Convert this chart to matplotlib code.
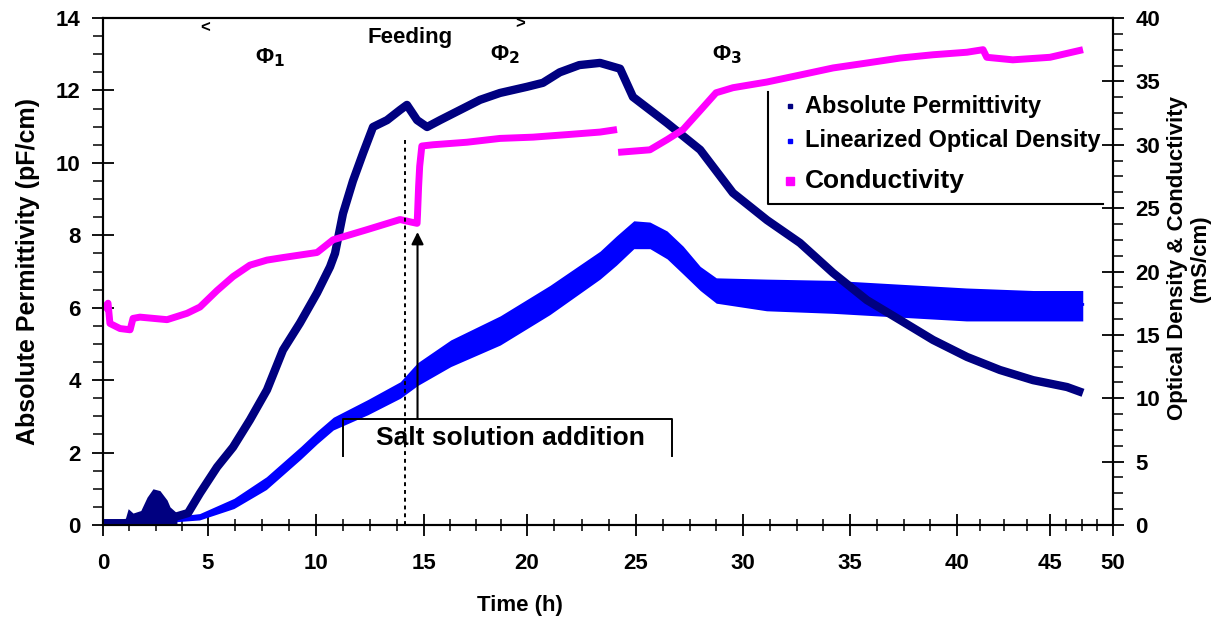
import numpy as np
import matplotlib
matplotlib.use("Agg")
import matplotlib.pyplot as plt
from matplotlib.lines import Line2D
from matplotlib.ticker import MultipleLocator, FixedLocator

plt.rcParams["font.family"] = ["Liberation Sans", "DejaVu Sans"]
plt.rcParams["font.weight"] = "bold"

# ---------------- data ----------------
x_ticks = [0, 5, 10, 15, 20, 25, 30, 35, 40, 45, 50]
left_ticks = [0, 2, 4, 6, 8, 10, 12, 14]
right_ticks = [0, 5, 10, 15, 20, 25, 30, 35, 40]

# Absolute permittivity (pF/cm), left axis
perm_time = [0, 1.0, 2.0, 3.0, 4.05, 4.62, 5.42, 6.16, 6.94, 7.73, 8.47, 9.26,
             10.05, 10.65, 10.88, 11.25, 11.71, 12.18, 12.64, 13.29, 13.89,
             14.21, 14.68, 15.15, 15.78, 16.75, 17.72, 18.69, 20.0, 20.73,
             21.5, 22.4, 23.35, 24.27, 24.86, 26.45, 28.0, 29.53, 31.12,
             32.66, 34.21, 35.79, 37.34, 38.88, 40.54, 42.31, 44.09, 46.35, 47.62]
perm_value = [0.05, 0.05, 0.1, 0.15, 0.33, 0.88, 1.6, 2.15, 2.9, 3.73, 4.83, 5.58,
              6.41, 7.13, 7.5, 8.6, 9.5, 10.27, 10.99, 11.18, 11.46,
              11.6, 11.18, 10.99, 11.18, 11.46, 11.74, 11.93, 12.1, 12.21,
              12.5, 12.7, 12.76, 12.6, 11.82, 11.1, 10.36, 9.17, 8.42,
              7.79, 6.96, 6.21, 5.66, 5.11, 4.64, 4.28, 4.0, 3.81, 3.65]
# early noisy blob of the permittivity signal
perm_blob_time = [1.0, 1.2, 1.43, 1.8, 2.1, 2.38, 2.71, 3.05, 3.19, 3.52]
perm_blob_top = [0.05, 0.45, 0.33, 0.4, 0.77, 1.0, 0.95, 0.69, 0.5, 0.33]

# Linearized optical density, right axis (band of points)
od_time = [0, 3.0, 4.6, 6.2, 7.7, 9.3, 10.05, 10.8, 12.4, 13.9, 14.7, 16.3,
           18.7, 21.05, 23.35, 24.1, 24.9, 25.65, 26.45, 27.2, 28.0, 28.75,
           31.1, 34.2, 37.3, 40.5, 44.1, 47.6]
od_center = [0.1, 0.4, 0.6, 1.7, 3.3, 5.7, 6.9, 8.0, 9.3, 10.65, 12.0, 13.6,
             15.4, 17.75, 20.5, 21.7, 23.2, 23.0, 22.25, 21.1, 19.6, 18.8,
             18.2, 18.1, 17.8, 17.5, 17.4, 17.4]
od_upper = [0.3, 0.6, 0.9, 2.1, 3.8, 6.2, 7.4, 8.5, 9.9, 11.3, 12.8, 14.6,
            16.5, 18.9, 21.6, 22.8, 24.0, 23.9, 23.2, 22.0, 20.4, 19.5,
            19.4, 19.3, 19.0, 18.7, 18.5, 18.5]
od_lower = [0.0, 0.2, 0.4, 1.3, 2.8, 5.2, 6.4, 7.5, 8.7, 10.0, 11.0, 12.5,
            14.2, 16.6, 19.4, 20.5, 21.8, 21.8, 21.0, 19.8, 18.5, 17.5,
            16.9, 16.7, 16.4, 16.1, 16.1, 16.1]

# Conductivity (mS/cm), right axis; NaN marks the break at t = 24 h
nan = float("nan")
cond_time = [0, 0.24, 0.33, 0.81, 1.29, 1.43, 1.76, 3.05, 4.0, 4.62, 5.42, 6.16,
             6.94, 7.73, 8.47, 9.26, 10.05, 10.79, 12.36, 13.89, 14.4, 14.68,
             14.7, 14.75, 14.8, 14.9, 15.44, 17.09, 18.69, 20.28, 21.84, 23.35,
             24.13, nan, 24.18, 25.65, 26.45, 27.2, 28.0, 28.74, 29.53, 31.12,
             32.66, 34.21, 35.79, 37.34, 38.88, 40.54, 41.4, 41.6, 43.0, 45.0, 47.62]
cond_value = [17.0, 17.5, 15.9, 15.5, 15.4, 16.3, 16.4, 16.2, 16.7, 17.2, 18.5, 19.6,
              20.5, 20.9, 21.1, 21.3, 21.5, 22.5, 23.3, 24.1, 23.9, 23.8,
              24.5, 26.7, 28.3, 29.9, 30.0, 30.2, 30.5, 30.6, 30.8, 31.0,
              31.2, nan, 29.4, 29.6, 30.4, 31.2, 32.7, 34.1, 34.5, 34.95,
              35.5, 36.06, 36.45, 36.84, 37.1, 37.3, 37.5, 36.9, 36.7, 36.9, 37.5]

# ---------------- layout / styles ----------------
W, H = 1215, 632
AX_L, AX_R, AX_T, AX_B = 103, 1113, 18, 525
# The reference's time axis is unevenly spaced (compressed beyond 40 h);
# pixel spacing of its tick labels, used as a piecewise-linear scale.
X_TICK_PX = [103, 208, 316, 424, 527, 636, 743, 850, 957, 1050, 1113]

NAVY = "#000080"
BLUE = "#0000FF"
MAGENTA = "#FF00FF"


def _piecewise(src, dst):
    src = np.asarray(src, float)
    dst = np.asarray(dst, float)
    s0 = (dst[1] - dst[0]) / (src[1] - src[0])
    s1 = (dst[-1] - dst[-2]) / (src[-1] - src[-2])

    def f(v):
        v = np.asarray(v, float)
        out = np.interp(v, src, dst)
        out = np.where(v < src[0], dst[0] + (v - src[0]) * s0, out)
        out = np.where(v > src[-1], dst[-1] + (v - src[-1]) * s1, out)
        return out
    return f


fig = plt.figure(figsize=(W / 100, H / 100), dpi=100)
ax = fig.add_axes([AX_L / W, (H - AX_B) / H, (AX_R - AX_L) / W, (AX_B - AX_T) / H])
ax.set_xscale("function", functions=(_piecewise(x_ticks, X_TICK_PX),
                                     _piecewise(X_TICK_PX, x_ticks)))
ax.set_xlim(0, 50)
ax.set_ylim(0, 14)
ax2 = ax.twinx()
ax2.set_ylim(0, 40)

# optical density band (right axis scale), drawn first
ax.fill_between(od_time, od_lower, od_upper, color=BLUE, lw=0,
                transform=ax2.transData, zorder=2)
ax.plot(od_time, od_center, color=BLUE, lw=2, transform=ax2.transData, zorder=2)

# permittivity (left axis)
ax.fill_between(perm_blob_time, 0, perm_blob_top, color=NAVY, lw=0, zorder=3)
ax.plot(perm_time, perm_value, color=NAVY, lw=6, zorder=3,
        solid_capstyle="butt")

# conductivity (right axis scale)
ax.plot(cond_time, cond_value, color=MAGENTA, lw=5, zorder=4,
        transform=ax2.transData, solid_capstyle="butt")

# ---------------- ticks & spines ----------------
for a in (ax, ax2):
    for s in a.spines.values():
        s.set_linewidth(1.5)
ax.xaxis.set_major_locator(FixedLocator(x_ticks))
ax.xaxis.set_minor_locator(MultipleLocator(1.25))
ax.set_xticklabels([str(v) for v in x_ticks])
ax.yaxis.set_major_locator(FixedLocator(left_ticks))
ax.yaxis.set_minor_locator(MultipleLocator(0.5))
ax2.yaxis.set_major_locator(FixedLocator(right_ticks))
ax2.yaxis.set_minor_locator(MultipleLocator(1.25))

ax.tick_params(axis="x", which="major", direction="inout", length=16, width=1.3,
               labelsize=16, pad=12)
ax.tick_params(axis="x", which="minor", direction="inout", length=9, width=1.1)
ax.tick_params(axis="y", which="major", direction="inout", length=16, width=1.3,
               labelsize=16, pad=8)
ax.tick_params(axis="y", which="minor", direction="out", length=7, width=1.1)
ax2.tick_params(axis="y", which="major", direction="inout", length=16, width=1.3,
                labelsize=16, pad=8)
ax2.tick_params(axis="y", which="minor", direction="out", length=7, width=1.1)

ax.set_xlabel("Time (h)", fontsize=16, fontweight="bold")
ax.xaxis.set_label_coords(0.413, -0.158)
ax.xaxis.label.set_va("center")
ax.set_ylabel("Absolute Permittivity (pF/cm)", fontsize=18, fontweight="bold")
ax.yaxis.set_label_coords(-0.074, 0.5)
ax.yaxis.label.set_va("center")
ax2.set_ylabel("Optical Density & Conductivity\n(mS/cm)", fontsize=16,
               fontweight="bold", linespacing=1.1)
ax2.yaxis.set_label_coords(1.075, 0.527)
ax2.yaxis.label.set_va("center")

# ---------------- annotations ----------------
ax.plot([14.1, 14.1], [0, 10.63], color="black", lw=1.4, ls=(0, (2, 2)), zorder=5)
ax.annotate("", xy=(14.7, 8.09), xytext=(14.7, 2.93),
            arrowprops=dict(arrowstyle="-|>", color="black", lw=1.5,
                            mutation_scale=18, shrinkA=0, shrinkB=0), zorder=5)
ax.plot([11.25, 11.25, 26.68, 26.68], [1.9, 2.93, 2.93, 1.9], color="black",
        lw=1.4, zorder=5)
ax.text(19.2, 2.4, "Salt solution addition", fontsize=19, ha="center",
        va="center", zorder=6)
ax.text(14.35, 13.45, "Feeding", fontsize=16, ha="center", va="center")
ax.text(4.86, 13.75, "<", fontsize=12, ha="center", va="center")
ax.text(19.66, 13.85, ">", fontsize=12, ha="center", va="center")
ax.text(7.86, 12.9, "Φ$_\\mathbf{1}$", fontsize=16, ha="center", va="center")
ax.text(18.93, 12.98, "Φ$_\\mathbf{2}$", fontsize=16, ha="center", va="center")
ax.text(29.25, 12.98, "Φ$_\\mathbf{3}$", fontsize=16, ha="center", va="center")

# ---------------- legend (open box: left and bottom edges) ----------------
def fx(px):
    return px / W


def fy(py):
    return 1 - py / H


fig.add_artist(Line2D([fx(768), fx(768), fx(1103)], [fy(92), fy(204), fy(204)],
                      color="black", lw=1.5))
leg_items = [("Absolute Permittivity", NAVY, "s", 3, 106, 17),
             ("Linearized Optical Density", BLUE, "s", 2.5, 141, 17),
             ("Conductivity", MAGENTA, "s", 6, 181, 19)]
for label, col, mk, ms, ypx, fs in leg_items:
    fig.add_artist(Line2D([fx(790)], [fy(ypx)], marker=mk, ms=ms, color=col, lw=0))
    fig.text(fx(805), fy(ypx), label, fontsize=fs, ha="left", va="center")

fig.savefig("out.png", dpi=100)
